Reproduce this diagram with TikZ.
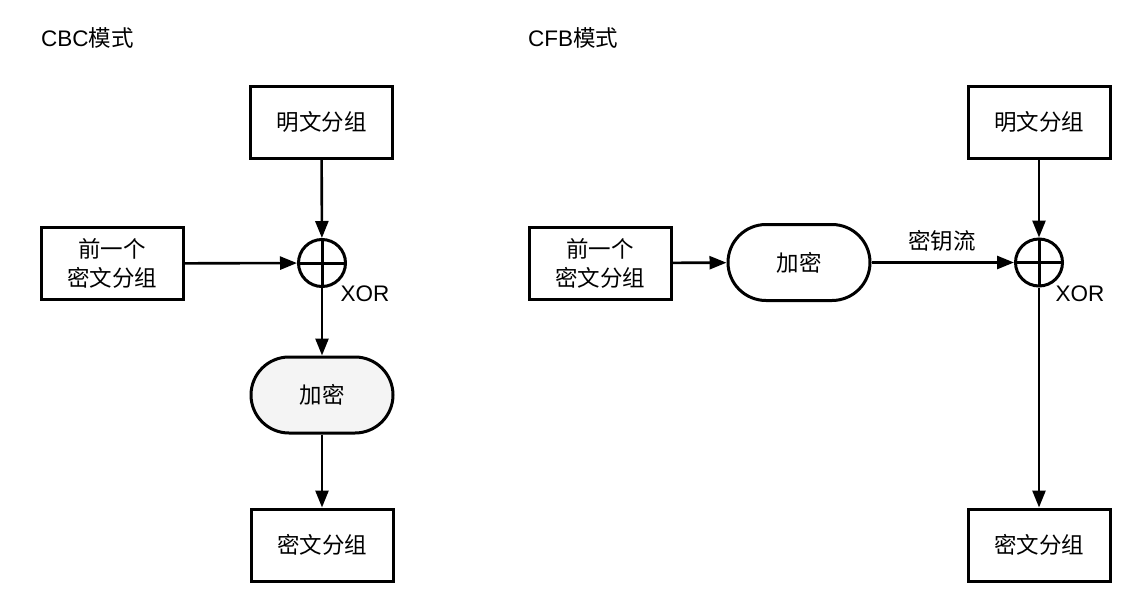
\documentclass[tikz,border=0pt]{standalone}
\usepackage{fontspec}
\setmainfont{Liberation Sans}
\newfontfamily\zh{Noto Sans CJK SC}
\usetikzlibrary{arrows.meta}
\tikzset{
  every node/.style={font=\fontsize{22.5pt}{27pt}\selectfont},
  blk/.style={draw, line width=3pt, minimum width=142pt, minimum height=72pt, inner sep=0pt, align=center, font=\zh\fontsize{22.5pt}{29pt}\selectfont},
  encbox/.style={draw, line width=3pt, rounded corners=38pt, minimum width=142pt, minimum height=76pt, inner sep=0pt, font=\zh\fontsize{22.5pt}{27pt}\selectfont},
  xorc/.style={draw, circle, line width=3pt, minimum size=47pt, inner sep=0pt,
    path picture={\draw[line width=3pt] (path picture bounding box.north) -- (path picture bounding box.south)
      (path picture bounding box.west) -- (path picture bounding box.east);}},
  lbl/.style={inner sep=0pt},
  arr/.style={line width=2.6pt, -{Triangle[length=17pt,width=13pt]}},
}
\begin{document}
\begin{tikzpicture}[x=1pt,y=-1pt]
\useasboundingbox (0,0) rectangle (1148,608);
% CBC
\node[lbl, anchor=west] (t1) at (41,38) {CBC{\zh 模式}};
\node[blk] (p1) at (321.5,122) {明文分组};
\node[blk] (c0) at (112,263.5) {前一个\\密文分组};
\node[xorc] (x1) at (322,263) {};
\node[lbl] (xl1) at (365,294) {XOR};
\node[encbox, fill=gray!9] (e1) at (322,395) {加密};
\node[blk] (c1) at (322,545) {密文分组};
\draw[arr] (p1) -- (x1);
\draw[arr] (c0) -- (x1);
\draw[arr] (x1) -- (e1);
\draw[arr] (e1) -- (c1);
% CFB
\node[lbl, anchor=west] (t2) at (528,38) {CFB{\zh 模式}};
\node[blk] (c0b) at (600,263) {前一个\\密文分组};
\node[encbox] (e2) at (799,262.5) {加密};
\node[blk] (p2) at (1039,122) {明文分组};
\node[xorc] (x2) at (1039,262.5) {};
\node[lbl] (xl2) at (1080,294) {XOR};
\node[lbl, font=\zh\fontsize{22.5pt}{27pt}\selectfont] (ks) at (942,241) {密钥流};
\node[blk] (c2) at (1039,545) {密文分组};
\draw[arr] (c0b) -- (e2);
\draw[arr] (e2) -- (x2);
\draw[arr] (p2) -- (x2);
\draw[arr] (x2) -- (c2);
\end{tikzpicture}
\end{document}
